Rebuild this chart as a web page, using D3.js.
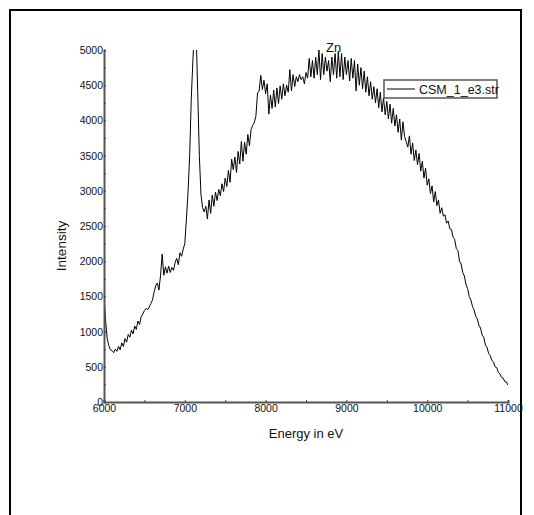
<!DOCTYPE html>
<html>
<head>
<meta charset="utf-8">
<script src="https://cdn.jsdelivr.net/npm/d3@7"></script>
<style>
  html, body { margin: 0; padding: 0; background: #fff; }
  svg { display: block; }
  text { font-family: "Liberation Sans", Arial, sans-serif; fill: #111; }
</style>
</head>
<body>
<svg id="chart" width="534" height="515"></svg>
<script>
// Zn K-edge spectrum, sampled every 20 eV from 6000 eV to 11000 eV
const energyStart = 6000;
const energyStep = 20;
const intensity = [
  1500,1150,900,800,740,730,700,750,720,790,         // 6000
  740,840,790,900,850,960,920,1020,970,1080,         // 6200
  1030,1150,1100,1210,1250,1300,1330,1310,1350,1400, // 6400
  1450,1560,1650,1690,1590,1800,2100,1800,1920,1830, // 6600
  1930,1840,1910,1870,1980,2040,1950,2120,2070,2170, // 6800
  2250,2600,2980,3500,4300,4850,5300,5250,4400,3500, // 7000
  2950,2760,2700,2780,2600,2870,2680,2940,2780,2980, // 7200
  2860,3020,2930,3100,2990,3180,3060,3290,3120,3450, // 7400
  3300,3480,3260,3560,3380,3700,3420,3690,3520,3800, // 7600
  3640,3870,3930,3970,4060,4390,4420,4640,4440,4570, // 7800
  4380,4520,4090,4360,4170,4430,4190,4460,4240,4490, // 8000
  4300,4520,4350,4500,4400,4720,4420,4650,4480,4620, // 8200
  4550,4650,4580,4620,4520,4680,4600,4880,4620,4850, // 8400
  4600,4900,4650,5000,4580,4950,4650,4900,4700,4850, // 8600
  4550,4900,4650,4950,4600,4980,4620,4950,4580,4900, // 8800
  4650,4850,4560,4880,4600,4850,4420,4800,4500,4750, // 9000
  4450,4700,4400,4620,4350,4550,4300,4480,4250,4450, // 9200
  4180,4400,4120,4320,4080,4270,4020,4230,3960,4170, // 9400
  3920,4080,3830,4020,3720,3980,3770,3700,3620,3780, // 9600
  3520,3680,3430,3580,3370,3530,3280,3420,3180,3320, // 9800
  3080,3170,2960,3070,2840,2990,2790,2870,2680,2760, // 10000
  2640,2660,2540,2570,2460,2450,2340,2310,2180,2150, // 10200
  2000,1960,1840,1790,1670,1610,1500,1450,1360,1310, // 10400
  1220,1180,1090,1050,950,920,810,780,690,660,       // 10600
  590,570,500,490,420,400,350,340,290,285,           // 10800
  240                                                // 11000
];
const xTicks = [6000, 7000, 8000, 9000, 10000, 11000];
const yTicks = [0, 500, 1000, 1500, 2000, 2500, 3000, 3500, 4000, 4500, 5000];
const seriesName = "CSM_1_e3.str";
const edgeLabel = "Zn";
const edgeEnergy = 8860;

const points = intensity.map((v, i) => ({ e: energyStart + i * energyStep, v }));

const svg = d3.select("#chart");
const plot = { left: 104, right: 508, top: 50, bottom: 402 };

const x = d3.scaleLinear().domain([6000, 11000]).range([plot.left, plot.right]);
const y = d3.scaleLinear().domain([0, 5000]).range([plot.bottom, plot.top]);

// page frame
svg.append("rect")
  .attr("x", 10).attr("y", 10).attr("width", 511).attr("height", 520)
  .attr("fill", "none").attr("stroke", "#000").attr("stroke-width", 2);

svg.append("clipPath").attr("id", "plotClip")
  .append("rect")
  .attr("x", plot.left).attr("y", plot.top)
  .attr("width", plot.right - plot.left).attr("height", plot.bottom - plot.top);

// spectrum trace
const line = d3.line().x(d => x(d.e)).y(d => y(d.v));
svg.append("path")
  .datum(points)
  .attr("clip-path", "url(#plotClip)")
  .attr("fill", "none")
  .attr("stroke", "#000")
  .attr("stroke-width", 1)
  .attr("d", line);

// axes: minor ticks point inward, labels sit against the axis line
const yAxis = d3.axisLeft(y).tickValues(d3.range(0, 5001, 250))
  .tickSize(-2).tickFormat(d => (yTicks.includes(d) ? d : ""));
const gy = svg.append("g").attr("transform", `translate(${plot.left},0)`).call(yAxis);
gy.select(".domain").attr("stroke", "#555").attr("stroke-width", 2);
gy.selectAll(".tick line").attr("stroke", "#444").attr("stroke-width", 1);
gy.selectAll(".tick text")
  .attr("x", -1).attr("dy", "0.34em")
  .style("font-size", "10.5px").style("font-family", "Liberation Sans, Arial, sans-serif")
  .attr("fill", "#111");

const xAxis = d3.axisBottom(x).tickValues(d3.range(6000, 11001, 500))
  .tickSize(-2).tickFormat(d => (xTicks.includes(d) ? d : ""));
const gx = svg.append("g").attr("transform", `translate(0,${plot.bottom})`).call(xAxis);
gx.select(".domain").attr("stroke", "#555").attr("stroke-width", 2);
gx.selectAll(".tick line").attr("stroke", "#444").attr("stroke-width", 1);
gx.selectAll(".tick text")
  .attr("y", 3).attr("dy", "0.71em")
  .style("font-size", "10.5px").style("font-family", "Liberation Sans, Arial, sans-serif")
  .attr("fill", "#111");

// axis titles
svg.append("text")
  .attr("x", (plot.left + plot.right) / 2).attr("y", 438)
  .attr("text-anchor", "middle").style("font-size", "13px")
  .text("Energy in eV");
svg.append("text")
  .attr("transform", `translate(66,${(plot.top + plot.bottom) / 2 + 20}) rotate(-90)`)
  .attr("text-anchor", "middle").style("font-size", "13.5px")
  .text("Intensity");

// edge annotation
svg.append("text")
  .attr("x", x(edgeEnergy) - 9).attr("y", 52)
  .style("font-size", "13px")
  .text(edgeLabel);

// legend
const lg = svg.append("g").attr("transform", "translate(384,80)");
lg.append("rect").attr("width", 113).attr("height", 18)
  .attr("fill", "#fff").attr("stroke", "#555").attr("stroke-width", 1.5);
lg.append("line").attr("x1", 3).attr("x2", 31).attr("y1", 9).attr("y2", 9)
  .attr("stroke", "#000").attr("stroke-width", 1);
lg.append("text").attr("x", 35).attr("y", 14)
  .style("font-size", "12.5px").text(seriesName);
</script>
</body>
</html>
